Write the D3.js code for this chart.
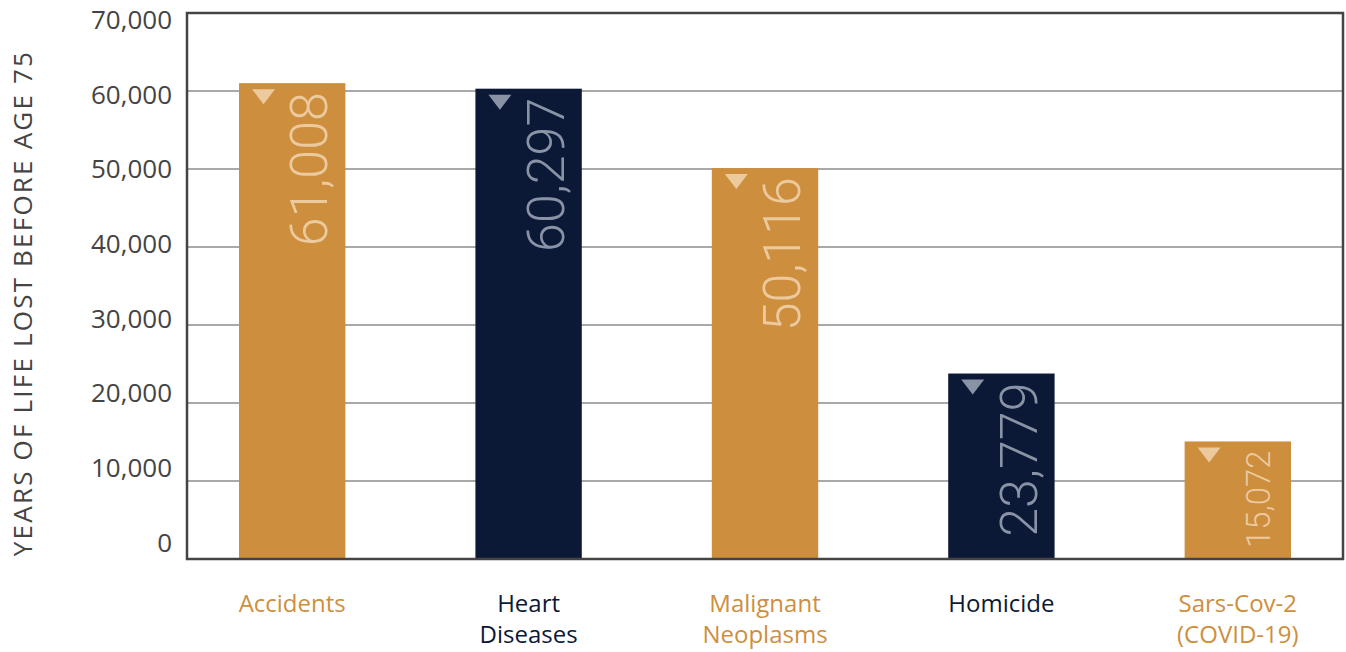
<!DOCTYPE html>
<html>
<head>
<meta charset="utf-8">
<script src="https://cdn.jsdelivr.net/npm/d3@7"></script>
<style>
    body { margin: 0; background: #fff; }
    svg { display: block; font-family: "Open Sans", "Noto Sans", sans-serif; }
</style>
</head>
<body>
<div id="chart"></div>
<script>
// Data
const categories = ["Accidents", "Heart Diseases", "Malignant Neoplasms", "Homicide", "Sars-Cov-2 (COVID-19)"];
const labelLines = [["Accidents"], ["Heart", "Diseases"], ["Malignant", "Neoplasms"], ["Homicide"], ["Sars-Cov-2", "(COVID-19)"]];
const values = [61008, 60297, 50116, 23779, 15072];
const yTicks = [0, 10000, 20000, 30000, 40000, 50000, 60000, 70000];

const ORANGE = "#cd8f3e";
const NAVY = "#0b1937";
const barColors = [ORANGE, NAVY, ORANGE, NAVY, ORANGE];
const markColors = { [ORANGE]: "#ecca9e", [NAVY]: "#8a93a5" };

const width = 1346, height = 652;
const margin = { top: 13, right: 3, bottom: 93, left: 187 };

const svg = d3.select("#chart").append("svg")
    .attr("width", width)
    .attr("height", height);

const x = d3.scaleBand()
    .domain(categories)
    .range([margin.left, width - margin.right])
    .paddingInner(0.55)
    .paddingOuter(0.22);

const y = d3.scaleLinear()
    .domain([0, 70000])
    .range([height - margin.bottom, margin.top]);

// tick labels in the original sit on a slightly tighter spacing than the grid
const yLabel = d3.scaleLinear()
    .domain([0, 70000])
    .range([543, 20]);

// Gridlines
svg.append("g")
    .selectAll("line")
    .data(yTicks.slice(1, -1))
    .join("line")
    .attr("x1", margin.left)
    .attr("x2", width - margin.right)
    .attr("y1", d => y(d))
    .attr("y2", d => y(d))
    .attr("stroke", "#a9a9a9")
    .attr("stroke-width", 2);

// Y axis labels
const yAxis = svg.append("g")
    .attr("transform", `translate(${margin.left},0)`)
    .call(d3.axisLeft(yLabel).tickValues(yTicks).tickSize(0).tickPadding(15).tickFormat(d3.format(",")));
yAxis.select(".domain").remove();
yAxis.selectAll("text")
    .attr("fill", "#444")
    .style("font-size", "26px")
    .style("font-weight", 500)
    .style("font-family", "'Open Sans', 'Noto Sans', sans-serif");

// Y title
svg.append("text")
    .attr("transform", `translate(32,303) rotate(-90)`)
    .attr("text-anchor", "middle")
    .attr("fill", "#444")
    .style("font-size", "26px")
    .style("letter-spacing", "2.2px")
    .text("YEARS OF LIFE LOST BEFORE AGE 75");

// Bars
const bar = svg.append("g")
    .selectAll("g")
    .data(categories)
    .join("g");

bar.append("rect")
    .attr("x", d => x(d))
    .attr("y", (d, i) => y(values[i]))
    .attr("width", x.bandwidth())
    .attr("height", (d, i) => y(0) - y(values[i]))
    .attr("fill", (d, i) => barColors[i]);

// Triangle marks
bar.append("path")
    .attr("d", (d, i) => {
        const l = x(d) + 13, t = y(values[i]) + 6;
        return `M${l},${t}L${l + 23},${t}L${l + 11.5},${t + 15}Z`;
    })
    .attr("fill", (d, i) => markColors[barColors[i]]);

// Value labels, rotated, shrunk to fit the bar
bar.append("text")
    .attr("text-anchor", "end")
    .attr("fill", (d, i) => markColors[barColors[i]])
    .style("font-family", "Roboto, sans-serif")
    .style("font-weight", 300)
    .style("font-size", "52px")
    .text((d, i) => d3.format(",")(values[i]))
    .each(function (d, i) {
        const el = d3.select(this);
        const top = y(values[i]);
        const avail = y(0) - top - 20;
        const len = this.getComputedTextLength();
        let fs = 52;
        if (len > avail) fs = 52 * avail / len;
        el.style("font-size", fs + "px");
        const bx = x(d) + x.bandwidth() - 18 - (52 - fs) * 0.15;
        el.attr("transform", `translate(${bx},${top + 9}) rotate(-90)`);
    });

// Frame
svg.append("rect")
    .attr("x", margin.left)
    .attr("y", margin.top)
    .attr("width", width - margin.left - margin.right)
    .attr("height", height - margin.top - margin.bottom)
    .attr("fill", "none")
    .attr("stroke", "#444")
    .attr("stroke-width", 2.5);

// Category labels
svg.append("g")
    .selectAll("text")
    .data(categories)
    .join("text")
    .attr("x", d => x(d) + x.bandwidth() / 2)
    .attr("y", 612)
    .attr("text-anchor", "middle")
    .attr("fill", (d, i) => barColors[i])
    .style("font-size", "24px")
    .style("font-weight", 500)
    .each(function (d, i) {
        d3.select(this).selectAll("tspan")
            .data(labelLines[i])
            .join("tspan")
            .attr("x", x(d) + x.bandwidth() / 2)
            .attr("dy", (t, j) => j === 0 ? 0 : 31)
            .text(t => t);
    });
</script>
</body>
</html>
